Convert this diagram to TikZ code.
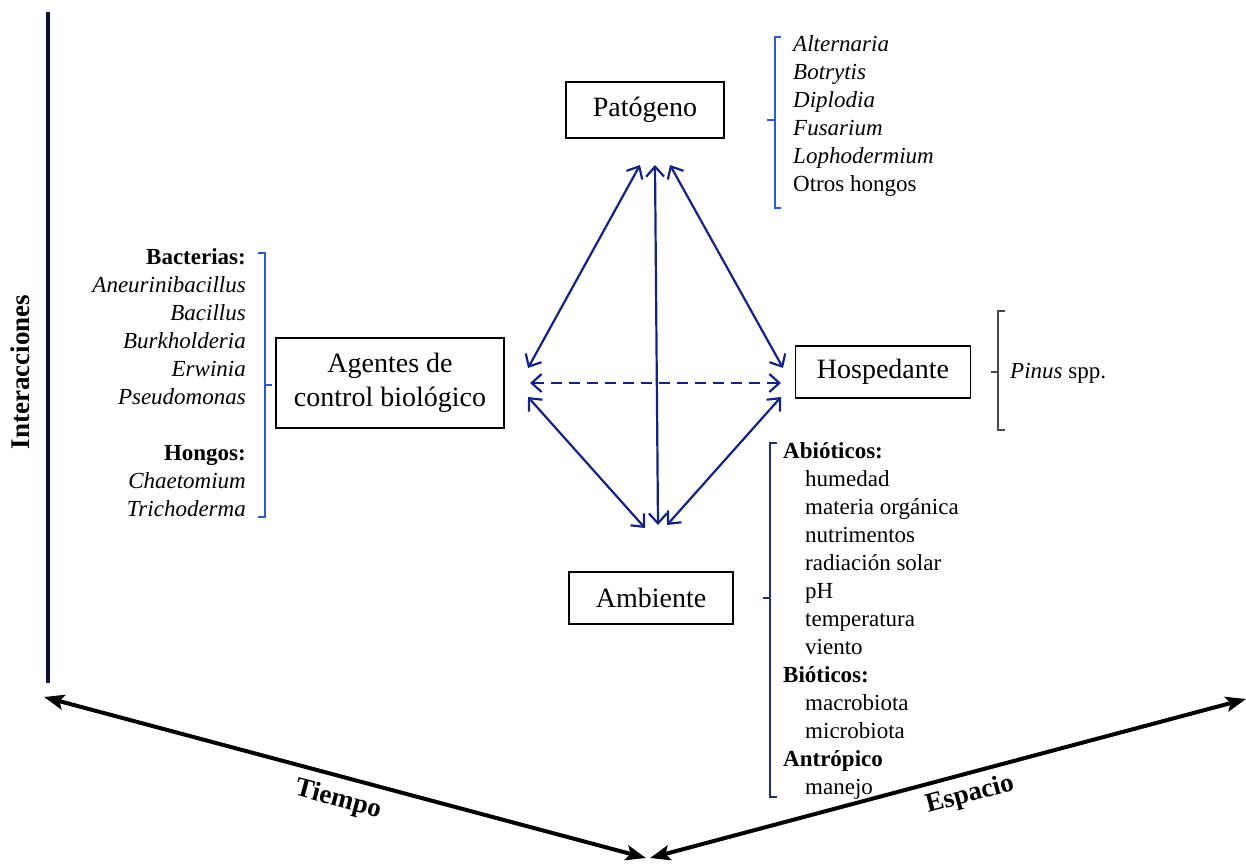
\documentclass[tikz,border=0pt]{standalone}
\usepackage{fontspec}
\setmainfont{Liberation Serif}
\usetikzlibrary{arrows.meta}
\definecolor{arrowblue}{HTML}{14237F}
\definecolor{brblue}{HTML}{2A5BD0}
\definecolor{brgrey}{HTML}{45474F}
\definecolor{brnavy}{HTML}{1E3270}
\definecolor{axisnavy}{HTML}{0B0F2A}
\begin{document}
\begin{tikzpicture}[x=1pt,y=-1pt,
  box/.style={draw=black,line width=1.8pt,inner sep=0pt,font=\fontsize{28}{34}\selectfont,align=center},
  list/.style={inner sep=0pt,font=\fontsize{23}{28}\selectfont},
  rel/.style={arrowblue,line width=2.2pt,{Straight Barb[length=10pt,width=18pt]}-{Straight Barb[length=10pt,width=18pt]}},
  axisarrow/.style={black,line width=4pt,{Stealth[length=20pt,width=15pt,inset=4pt]}-{Stealth[length=20pt,width=15pt,inset=4pt]}},
  axlabel/.style={font=\fontsize{27}{30}\selectfont\bfseries,inner sep=0pt},
  bracket/.style={line width=1.6pt}]
\useasboundingbox (0,0) rectangle (1246,863);

% axes
\coordinate (vtop) at (48,12);
\coordinate (vbot) at (48,683);
\coordinate (tl) at (44,697);
\coordinate (tb) at (646,858);
\coordinate (sb) at (650,858);
\coordinate (sr) at (1246,699);
\draw[axisnavy,line width=4pt] (vtop) -- (vbot);
\draw[axisarrow] (tl) -- (tb);
\draw[axisarrow] (sb) -- (sr);
\node[axlabel,rotate=90] (inter) at (20,372) {Interacciones};
\node[axlabel,rotate=-15] (tiempo) at (338,800) {Tiempo};
\node[axlabel,rotate=15] (espacio) at (970,795) {Espacio};

% boxes
\node[box,minimum width=158pt,minimum height=56pt] (pat) at (645,110) {Patógeno};
\node[box,minimum width=228pt,minimum height=90pt] (acb) at (390,383) {Agentes de\\control biológico};
\node[box,minimum width=175pt,minimum height=52pt] (hos) at (883,372) {Hospedante};
\node[box,minimum width=164pt,minimum height=52pt] (amb) at (651,598) {Ambiente};

% arrow end points
\coordinate (p1) at (640,165);
\coordinate (p2) at (655,165);
\coordinate (p3) at (670,165);
\coordinate (a1) at (528,368);
\coordinate (a2) at (530,383);
\coordinate (a3) at (528,397);
\coordinate (h1) at (783,368);
\coordinate (h2) at (781,383);
\coordinate (h3) at (781,397);
\coordinate (m1) at (645,528);
\coordinate (m2) at (658,525);
\coordinate (m3) at (667,525);

\draw[rel] (p1) -- (a1);
\draw[rel] (p2) -- (m2);
\draw[rel] (p3) -- (h1);
\draw[rel,dash pattern=on 11pt off 7pt] (a2) -- (h2);
\draw[rel] (a3) -- (m1);
\draw[rel] (h3) -- (m3);

% lists
\node[list,anchor=west,align=left] (patlist) at (793,116) {%
\strut\textit{Alternaria}\\
\strut\textit{Botrytis}\\
\strut\textit{Diplodia}\\
\strut\textit{Fusarium}\\
\strut\textit{Lophodermium}\\
\strut Otros hongos};
\draw[bracket,brblue] (781,37) -- (775,37) -- (775,208) -- (781,208);
\draw[bracket,brblue] (775,120) -- (767,120);

\node[list,anchor=east,align=right] (acblist) at (246,385) {%
\strut\textbf{Bacterias:}\\
\strut\textit{Aneurinibacillus}\\
\strut\textit{Bacillus}\\
\strut\textit{Burkholderia}\\
\strut\textit{Erwinia}\\
\strut\textit{Pseudomonas}\\
\strut\\
\strut\textbf{Hongos:}\\
\strut\textit{Chaetomium}\\
\strut\textit{Trichoderma}};
\draw[bracket,brblue] (258,253) -- (265,253) -- (265,517) -- (258,517);
\draw[bracket,brblue] (265,385) -- (272,385);

\node[list,anchor=west] (hoslist) at (1010,373) {\strut\textit{Pinus} spp.};
\draw[bracket,brgrey] (1005,311) -- (998,311) -- (998,430) -- (1005,430);
\draw[bracket,brgrey] (998,372) -- (991,372);

\node[list,anchor=west,align=left] (amblist) at (783,621) {%
\strut\textbf{Abióticos:}\\
\strut\hspace*{22pt}humedad\\
\strut\hspace*{22pt}materia orgánica\\
\strut\hspace*{22pt}nutrimentos\\
\strut\hspace*{22pt}radiación solar\\
\strut\hspace*{22pt}pH\\
\strut\hspace*{22pt}temperatura\\
\strut\hspace*{22pt}viento\\
\strut\textbf{Bióticos:}\\
\strut\hspace*{22pt}macrobiota\\
\strut\hspace*{22pt}microbiota\\
\strut\textbf{Antrópico}\\
\strut\hspace*{22pt}manejo};
\draw[bracket,brnavy] (777,443) -- (770,443) -- (770,797) -- (777,797);
\draw[bracket,brnavy] (770,598) -- (763,598);
\end{tikzpicture}
\end{document}
